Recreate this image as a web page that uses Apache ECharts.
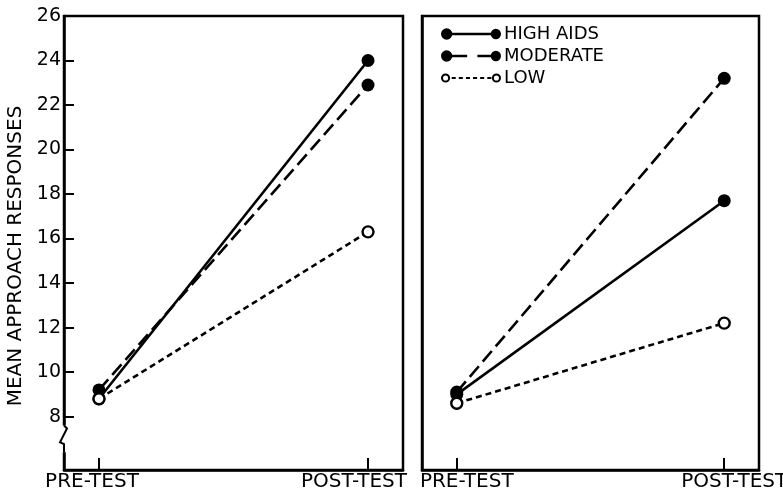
<!DOCTYPE html>
<html>
<head>
<meta charset="utf-8">
<script src="https://cdn.jsdelivr.net/npm/echarts@6/dist/echarts.min.js"></script>
<style>
  html, body { margin: 0; padding: 0; background: #fff; }
  #chart { width: 783px; height: 493px; }
</style>
</head>
<body>
<div id="chart"></div>
<script>
// stages on the x axis (0 = pre-test, 1 = post-test)
const stages = ['PRE-TEST', 'POST-TEST'];
const groups = ['HIGH AIDS', 'MODERATE', 'LOW'];
const yTicks = [8, 10, 12, 14, 16, 18, 20, 22, 24, 26];

// left panel
const leftHigh = [8.8, 24.0];
const leftModerate = [9.2, 22.9];
const leftLow = [8.8, 16.3];

// right panel
const rightHigh = [9.0, 17.7];
const rightModerate = [9.1, 23.2];
const rightLow = [8.6, 12.2];

const font = 'DejaVu Sans';

// legend icons: dot - line - dot, drawn in a 60x12 box
const dotL = 'M0.5,6a5.5,5.5 0 1,1 11,0a5.5,5.5 0 1,1 -11,0Z';
const dotR = 'M49,6a5,5 0 1,1 10,0a5,5 0 1,1 -10,0Z';
const ringL = 'M0.5,6a4.5,4.5 0 1,1 9,0a4.5,4.5 0 1,1 -9,0Z M2.5,6a2.5,2.5 0 1,0 5,0a2.5,2.5 0 1,0 -5,0Z';
const ringR = 'M50.5,6a4.5,4.5 0 1,1 9,0a4.5,4.5 0 1,1 -9,0Z M52.5,6a2.5,2.5 0 1,0 5,0a2.5,2.5 0 1,0 -5,0Z';
const icons = {
    'HIGH AIDS': 'path://' + dotL + ' M6,4.8h48v2.4h-48Z ' + dotR,
    'MODERATE': 'path://' + dotL + ' M6,4.8h20v2.4h-20Z M36,4.8h18v2.4h-18Z ' + dotR,
    'LOW': 'path://' + ringL + ' M11,5h4v2h-4Z M18,5h4v2h-4Z M25,5h4v2h-4Z M32,5h4v2h-4Z M39,5h4v2h-4Z M46,5h4v2h-4Z ' + ringR
};

function pairs(vals) {
    return vals.map((v, i) => [i, v]);
}

function lineSeries(name, vals, idx) {
    const low = name === 'LOW';
    const dash = name === 'HIGH AIDS' ? 'solid' : (name === 'MODERATE' ? [14, 6] : [6, 4]);
    return {
        name: name,
        type: 'line',
        xAxisIndex: idx,
        yAxisIndex: idx,
        data: pairs(vals),
        symbol: 'circle',
        symbolSize: low ? 11 : 13,
        lineStyle: { color: '#000', width: 2.6, type: dash },
        itemStyle: low ? { color: '#fff', borderColor: '#000', borderWidth: 2.4 } : { color: '#000' },
        z: low ? 3 : 2,
        silent: true,
        animation: false
    };
}

function xAxis(idx) {
    // the printed labels sit a little off their ticks, away from the gap between panels
    const shift = idx === 0 ? ['{l|', '{ll|'] : ['{r|', '{r|'];
    return {
        type: 'value',
        gridIndex: idx,
        min: -0.13,
        max: 1.13,
        splitLine: { show: false },
        axisLine: { show: true, onZero: false, lineStyle: { color: '#000', width: 2.5 } },
        axisTick: { show: true, inside: true, length: 12, customValues: [0, 1], lineStyle: { color: '#000', width: 2 } },
        axisLabel: {
            customValues: [0, 1],
            formatter: v => shift[v] + stages[v] + '}',
            color: '#000',
            fontFamily: font,
            fontSize: 20,
            margin: 2,
            rich: {
                l: { fontFamily: font, fontSize: 20, color: '#000', padding: [0, 14, 0, 0] },
                ll: { fontFamily: font, fontSize: 20, color: '#000', padding: [0, 28, 0, 0] },
                r: { fontFamily: font, fontSize: 20, color: '#000', padding: [0, 0, 0, 20] }
            }
        }
    };
}

function yAxis(idx) {
    const left = idx === 0;
    return {
        type: 'value',
        gridIndex: idx,
        min: 5.6,
        max: 26,
        name: left ? 'MEAN APPROACH RESPONSES' : '',
        nameLocation: 'middle',
        nameRotate: 90,
        nameGap: 38,
        nameTextStyle: { color: '#000', fontFamily: font, fontSize: 20, padding: [0, 26, 0, 0] },
        splitLine: { show: false },
        axisLine: { show: true, onZero: false, lineStyle: { color: '#000', width: 2.5 } },
        axisTick: { show: left, inside: true, length: 10, customValues: yTicks, lineStyle: { color: '#000', width: 2 } },
        axisLabel: {
            show: left,
            customValues: yTicks,
            color: '#000',
            fontFamily: font,
            fontSize: 19,
            margin: 3
        }
    };
}

const chart = echarts.init(document.getElementById('chart'), null, { renderer: 'canvas' });

const option = {
    backgroundColor: '#fff',
    animation: false,
    grid: [
        { left: 64, right: 380, top: 16, bottom: 23, outerBoundsMode: 'none', containLabel: false, show: true, borderColor: '#000', borderWidth: 2.5 },
        { left: 422, right: 24, top: 16, bottom: 23, outerBoundsMode: 'none', containLabel: false, show: true, borderColor: '#000', borderWidth: 2.5 }
    ],
    xAxis: [xAxis(0), xAxis(1)],
    yAxis: [yAxis(0), yAxis(1)],
    legend: {
        orient: 'vertical',
        left: 441,
        top: 25,
        padding: 0,
        itemWidth: 60,
        itemHeight: 12,
        itemGap: 4,
        selectedMode: false,
        textStyle: { color: '#000', fontFamily: font, fontSize: 18, padding: [0, 0, 0, -2] },
        data: groups.map(g => ({ name: g, icon: icons[g], itemStyle: { color: '#000', borderWidth: 0 } }))
    },
    series: [
        lineSeries('HIGH AIDS', leftHigh, 0),
        lineSeries('MODERATE', leftModerate, 0),
        lineSeries('LOW', leftLow, 0),
        lineSeries('HIGH AIDS', rightHigh, 1),
        lineSeries('MODERATE', rightModerate, 1),
        lineSeries('LOW', rightLow, 1)
    ]
};

chart.setOption(option);

// axis break mark on the left axis, below 8
const ax = chart.convertToPixel({ xAxisIndex: 0 }, -0.13);
const yTop = chart.convertToPixel({ yAxisIndex: 0 }, 7.6);
const yBot = chart.convertToPixel({ yAxisIndex: 0 }, 6.4);
chart.setOption({
    graphic: [
        { type: 'rect', shape: { x: ax - 3, y: yTop, width: 6, height: yBot - yTop }, style: { fill: '#fff' }, z: 100 },
        {
            type: 'polyline',
            shape: { points: [[ax, yTop], [ax + 3, yTop + 3], [ax - 4, yBot - 10], [ax, yBot - 8], [ax, yBot]] },
            style: { stroke: '#000', lineWidth: 2, fill: null },
            z: 101
        }
    ]
});
</script>
</body>
</html>
